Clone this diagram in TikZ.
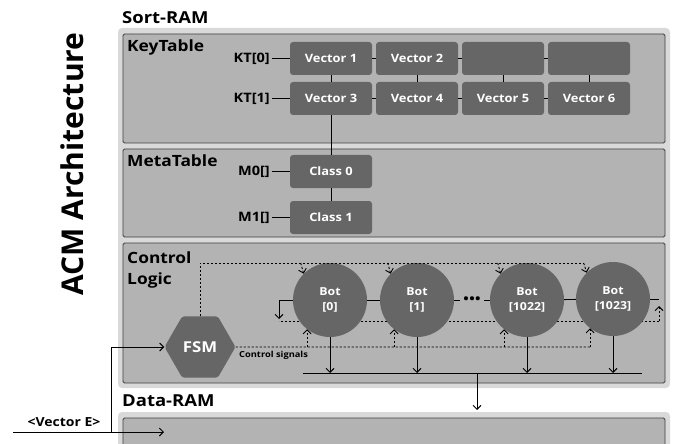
\documentclass[tikz,border=0pt]{standalone}
\usepackage{fontspec}
\setmainfont{Open Sans}[FakeStretch=1.12]
\newfontfamily\titlefont{Open Sans}
\usetikzlibrary{arrows.meta,shapes.geometric,calc}
\definecolor{ramgray}{HTML}{D9D9D9}
\definecolor{panelgray}{HTML}{B3B3B3}
\definecolor{cellgray}{HTML}{666666}
\definecolor{edgegray}{HTML}{3F3F3F}
\begin{document}
\begin{tikzpicture}[x=1pt,y=-1pt,
  ramzone/.style={fill=ramgray, rounded corners=4pt},
  panelbox/.style={fill=panelgray, draw=edgegray, line width=0.8pt, rounded corners=1.5pt},
  cell/.style={fill=cellgray, rounded corners=3pt, minimum width=82pt, minimum height=33pt,
    inner sep=0pt, text=white, font=\bfseries\fontsize{11.5}{13}\selectfont},
  bot/.style={circle, fill=cellgray, minimum size=74pt, inner sep=0pt, text=white,
    align=center, font=\bfseries\fontsize{11}{14.5}\selectfont},
  hexbox/.style={regular polygon, regular polygon sides=6, minimum size=71pt, inner sep=0pt,
    fill=cellgray, text=white, rounded corners=2pt, font=\bfseries\fontsize{15}{17}\selectfont},
  head/.style={font=\bfseries\fontsize{15.5}{21.5}\selectfont, inner sep=0pt},
  ramhead/.style={head, font=\bfseries\fontsize{16.5}{20}\selectfont},
  idx/.style={font=\bfseries\fontsize{13}{15}\selectfont, inner sep=2pt, anchor=east},
  wire/.style={draw=black, line width=0.9pt},
  sig/.style={wire, dash pattern=on 2.2pt off 1.8pt},
  arr/.style={-{Straight Barb[length=4pt,width=8pt]}},
]
\useasboundingbox (0,0) rectangle (673,444);
\clip (0,0) rectangle (673,444);

% title
\node[rotate=90, inner sep=0pt, font=\titlefont\bfseries\fontsize{30}{32}\selectfont] (title) at (72,164) {ACM Architecture};

% memory zones and panels
\node[ramhead, anchor=base west] (sortram) at (122,24) {Sort-RAM};
\fill[ramzone] (118,28) rectangle (670,388);
\draw[panelbox] (123,34) rectangle (665,143);
\draw[panelbox] (123,149) rectangle (665,237);
\draw[panelbox] (123,243) rectangle (665,383);
\node[head, anchor=base west] (keytable) at (127,52) {KeyTable};
\node[head, anchor=base west] (metatable) at (127,166) {MetaTable};
\node[head, anchor=north west, align=left] (ctllogic) at (127,251.5) {Control\\Logic};

\node[ramhead, anchor=base west] (dataram) at (122,406) {Data-RAM};
\fill[ramzone] (118,412) rectangle (670,470);
\draw[panelbox] (123,418) rectangle (665,470);

% key table
\node[cell] (v1) at (331,58.5) {Vector 1};
\node[cell] (v2) at (417,58.5) {Vector 2};
\node[cell] (v7) at (503,58.5) {};
\node[cell] (v8) at (589,58.5) {};
\node[cell] (v3) at (331,98.5) {Vector 3};
\node[cell] (v4) at (417,98.5) {Vector 4};
\node[cell] (v5) at (503,98.5) {Vector 5};
\node[cell] (v6) at (589,98.5) {Vector 6};
\node[idx] (kt0) at (272,58.5) {KT[0]};
\node[idx] (kt1) at (272,98.5) {KT[1]};

% meta table
\node[cell] (c0) at (331,171.5) {Class 0};
\node[cell] (c1) at (331,217.5) {Class 1};
\node[idx] (m0) at (272,171.5) {M0[]};
\node[idx] (m1) at (272,217.5) {M1[]};

\draw[wire] (kt0) -- (v1);
\draw[wire] (kt1) -- (v3);
\draw[wire] (m0) -- (c0);
\draw[wire] (m1) -- (c1);
\draw[wire] (v1) -- (v2);
\draw[wire] (v2) -- (v7);
\draw[wire] (v7) -- (v8);
\draw[wire] (v3) -- (v4);
\draw[wire] (v4) -- (v5);
\draw[wire] (v5) -- (v6);
\draw[wire] (v1) -- (v3);
\draw[wire] (v2) -- (v4);
\draw[wire] (v7) -- (v5);
\draw[wire] (v8) -- (v6);
\draw[wire] (v3) -- (c0);
\draw[wire] (c0) -- (c1);

% control logic
\coordinate (wrapR) at (659,321);
\coordinate (wrapL) at (279,321);
\coordinate (wrapLend) at (279,319);
\draw[sig] (wrapR) -- (wrapL);

\node[bot] (b0) at (330,300) {Bot\\{[0]}};
\node[bot] (b1) at (417,300) {Bot\\{[1]}};
\node[bot] (b2) at (527,300) {Bot\\{[1022]}};
\node[bot] (b3) at (613,299) {Bot\\{[1023]}};
\node[hexbox] (fsm) at (200,347) {FSM};

\draw[wire] (b0) -- (b1);
\draw[wire] (b1) -- node[fill=panelgray, inner xsep=3pt, inner ysep=1pt, font=\bfseries\fontsize{13}{13}\selectfont] (dots) {\textbullet\kern0.3pt\textbullet\kern0.3pt\textbullet} (b2);
\draw[wire] (b2) -- (b3);
\draw[wire] (b3.east) -- (b3.east -| wrapR);
\draw[sig, arr] (wrapR) -- ++(0,-15);
\draw[wire, arr] (b0.west) -| (wrapLend);

% start signals from the FSM
\coordinate (topR) at (584,263);
\draw[sig] (fsm.north) |- (topR);
\foreach \b in {b0,b1,b2,b3}
  \draw[sig, arr] ($(\b.135 |- topR)+(-3,0)$) -- (\b.135);

% control signals
\coordinate (ctlR) at (591,347);
\draw[sig] (fsm.east) -- (ctlR);
\foreach \b in {b0,b1,b2,b3}
  \draw[sig, arr] (\b.232 |- ctlR) -- (\b.232);
\node[anchor=north west, inner sep=0pt, font=\bfseries\fontsize{8.3}{9}\selectfont] (ctlsig) at (239,351) {Control signals};

% result bus to the data memory
\coordinate (busL) at (303,373);
\coordinate (busR) at (642,373);
\coordinate (busOut) at (477,373);
\coordinate (dataIn) at (477,410);
\draw[wire] (busL) -- (busR);
\foreach \b in {b0,b1,b2,b3}
  \draw[wire, arr] (\b.south) -- (\b.south |- busL);
\draw[wire, arr] (busOut) -- (dataIn);

% incoming vector
\coordinate (vin) at (13,432);
\coordinate (vsplit) at (111,432);
\coordinate (vdata) at (164,432);
\node[anchor=base, inner sep=0pt, font=\bfseries\fontsize{12.5}{14}\selectfont] (vlabel) at (64,426) {<Vector E>};
\draw[wire, arr] (vin) -- (vdata);
\draw[wire, arr] (vsplit) |- (fsm.west);
\end{tikzpicture}
\end{document}
